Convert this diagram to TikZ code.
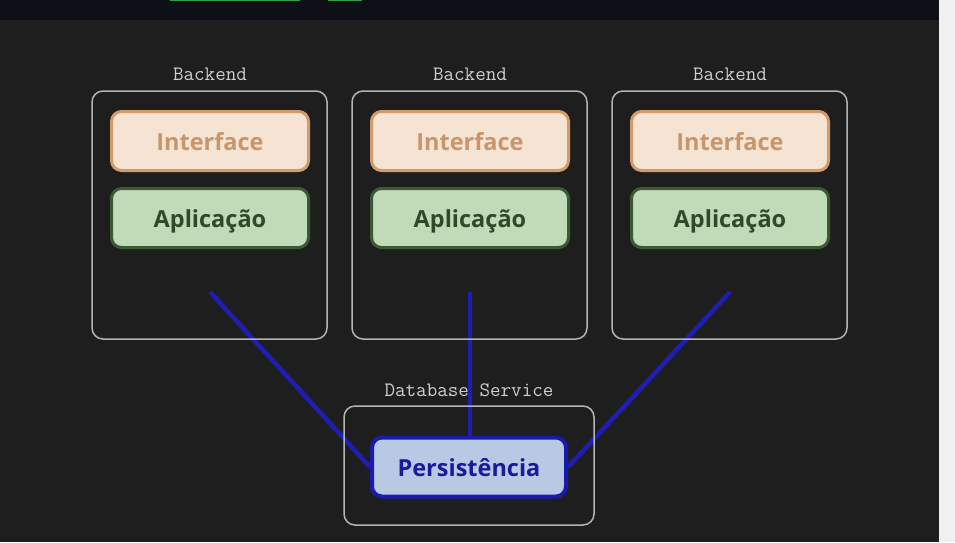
\documentclass[tikz,border=0pt]{standalone}
\usepackage{fontspec}
\setmainfont{Open Sans}
\pgfdeclarelayer{bottom}
\pgfdeclarelayer{mid}
\pgfsetlayers{bottom,mid,main}
\definecolor{bgdark}{HTML}{1E1E1E}
\definecolor{topband}{HTML}{0D1017}
\definecolor{sidestrip}{HTML}{F0F0F0}
\definecolor{framegray}{HTML}{B4B4B4}
\definecolor{labelgray}{HTML}{CFCFCF}
\definecolor{ifill}{HTML}{F5E4D4}
\definecolor{idraw}{HTML}{D29B69}
\definecolor{itext}{HTML}{C9956A}
\definecolor{afill}{HTML}{C1DBB8}
\definecolor{adraw}{HTML}{3A5A34}
\definecolor{atext}{HTML}{2F4A2A}
\definecolor{pfill}{HTML}{B8CAE3}
\definecolor{pdraw}{HTML}{1A1AB0}
\definecolor{ptext}{HTML}{1A1A9C}
\definecolor{linkblue}{HTML}{1E1EB2}
\definecolor{topgreen}{HTML}{2EA043}
\tikzset{
  frame/.style={draw=framegray, line width=1.5pt, rounded corners=11pt},
  lbl/.style={text=labelgray, font=\ttfamily\fontsize{20.5}{22}\selectfont, inner sep=0pt},
  layer/.style={minimum width=197pt, minimum height=59pt, inner sep=0pt, rounded corners=10pt,
    text height=22pt, text depth=3pt,
    font=\bfseries\fontsize{23.5}{25}\selectfont},
  iface/.style={layer, fill=ifill, draw=idraw, line width=3pt, text=itext},
  appl/.style={layer, fill=afill, draw=adraw, line width=3pt, text=atext},
  pers/.style={layer, minimum width=194pt, fill=pfill, draw=pdraw, line width=4pt, text=ptext},
  link/.style={draw=linkblue, line width=4.5pt},
}
\begin{document}
\begin{tikzpicture}[x=1pt,y=-1pt]
\useasboundingbox (0,0) rectangle (955,542);
\begin{pgfonlayer}{bottom}
\fill[bgdark] (0,0) rectangle (955,542);
\fill[topband] (0,0) rectangle (939,20);
\fill[sidestrip] (939,0) rectangle (955,542);
\fill[topgreen] (170,0) rectangle (300,1.2);
\fill[topgreen] (328,0) rectangle (362,1.2);
\end{pgfonlayer}

% backend frames
\draw[frame] (92,91) rectangle (327,339);
\draw[frame] (352,91) rectangle (587,339);
\draw[frame] (612,91) rectangle (847,339);
\node[lbl] (b1) at (210,74) {Backend};
\node[lbl] (b2) at (470,74) {Backend};
\node[lbl] (b3) at (730,74) {Backend};

% database frame
\draw[frame] (344,406) rectangle (594,525);
\node[lbl] (db) at (469,390) {Database Service};

\node[iface] (i1) at (210,141) {Interface};
\node[iface] (i2) at (470,141) {Interface};
\node[iface] (i3) at (730,141) {Interface};
\node[appl] (a1) at (210,218) {Aplicação};
\node[appl] (a2) at (470,218) {Aplicação};
\node[appl] (a3) at (730,218) {Aplicação};
\node[pers] (p) at (469,467) {Persistência};

% links (behind the nodes)
\coordinate (c1) at (210,292);
\coordinate (c2) at (470,292);
\coordinate (c3) at (730,292);
\begin{pgfonlayer}{mid}
\draw[link] (c1) -- (p.west);
\draw[link] (c2) -- (p.north -| c2);
\draw[link] (c3) -- (p.east);
\end{pgfonlayer}
\end{tikzpicture}
\end{document}
